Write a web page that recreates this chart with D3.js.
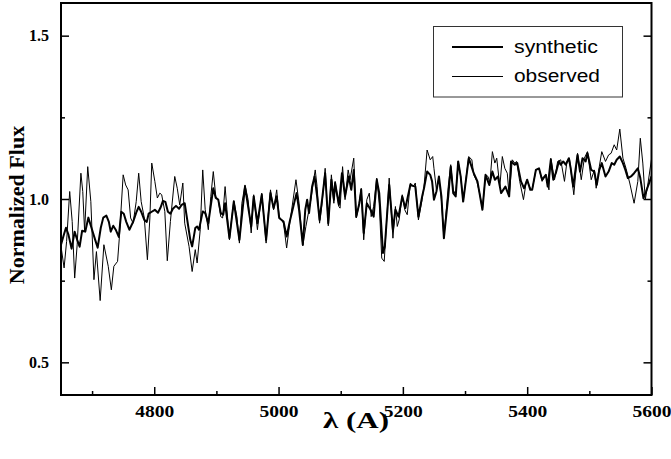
<!DOCTYPE html>
<html>
<head>
<meta charset="utf-8">
<script src="https://cdn.jsdelivr.net/npm/d3@7"></script>
<style>
  html, body { margin: 0; padding: 0; background: #fff; }
  svg { display: block; }
</style>
</head>
<body>
<svg id="chart" width="671" height="459"></svg>
<script>
// ---------------- data ----------------
const obsWave = [4650,4655,4659,4664,4668,4672,4676,4682,4685,4688,4693,4698,4703,4707,4713,4719,4726,4731,4735,4741,4744,4750,4754,4758,4762,4766,4771,4775,4779,4784,4789,4793,4796,4801,4805,4809,4812,4817,4821,4826,4833,4837,4841,4846,4849,4856,4861,4866,4869,4874,4878,4882,4887,4891,4895,4899,4903,4907,4910,4914,4917,4921,4925,4928,4933,4937,4941,4946,4951,4956,4960,4966,4973,4980,4983,4987,4992,4997,5001,5008,5013,5018,5028,5033,5039,5044,5048,5052,5057,5059,5062,5066,5070,5075,5080,5085,5089,5091,5097,5099,5103,5107,5112,5115,5121,5125,5129,5133,5137,5142,5146,5149,5153,5158,5162,5166,5170,5178,5184,5188,5191,5194,5199,5203,5207,5212,5217,5220,5225,5231,5234,5239,5244,5248,5250,5254,5258,5262,5266,5273,5277,5281,5285,5289,5293,5297,5302,5306,5311,5314,5319,5324,5328,5333,5337,5340,5344,5348,5351,5356,5360,5364,5368,5371,5376,5380,5383,5388,5394,5399,5405,5408,5414,5419,5424,5430,5435,5438,5444,5449,5454,5460,5464,5468,5475,5481,5487,5492,5497,5503,5508,5511,5516,5520,5526,5531,5535,5540,5544,5549,5554,5559,5565,5572,5578,5582,5586,5590,5594,5600];
const obsFlux = [0.855,0.789,0.870,1.023,0.931,0.758,0.860,1.079,1.023,0.901,1.099,0.992,0.753,0.839,0.689,0.860,0.794,0.722,0.794,0.809,0.885,1.074,1.043,1.028,0.942,0.926,0.992,1.079,0.992,0.942,0.814,0.942,1.110,1.054,1.003,1.018,1.013,0.962,0.811,0.931,1.069,1.033,0.982,1.049,0.926,0.855,0.778,0.845,0.804,0.906,1.089,0.967,0.906,1.008,1.084,1.008,0.998,0.946,0.942,1.038,0.967,0.875,0.946,0.995,0.946,0.865,0.987,1.043,0.998,0.896,1.013,0.906,1.018,0.865,0.946,1.028,0.967,1.028,0.946,0.926,0.850,0.926,1.059,0.987,0.857,0.916,0.957,0.998,1.065,1.089,1.038,0.926,0.987,1.094,0.918,1.074,0.987,1.054,0.977,0.972,1.099,0.998,1.089,1.059,1.125,0.942,0.977,1.033,0.875,0.998,1.018,0.946,0.977,1.064,0.987,0.819,0.809,1.064,0.880,0.977,0.916,0.936,1.013,0.967,0.952,1.049,1.038,1.049,0.936,0.998,1.038,1.150,1.120,1.130,1.094,1.028,1.064,0.998,0.880,1.038,1.105,1.028,1.013,1.115,1.069,0.992,1.069,1.130,1.120,1.074,1.054,1.013,0.967,1.074,1.069,1.049,1.145,1.110,1.125,1.038,1.130,1.094,1.079,1.008,1.120,1.110,1.115,1.054,0.998,1.059,1.033,1.028,1.089,1.094,1.054,1.074,1.028,1.125,1.059,1.115,1.120,1.054,1.115,1.125,1.013,1.140,1.059,1.125,1.145,1.059,1.089,1.033,1.099,1.145,1.115,1.135,1.140,1.166,1.150,1.214,1.125,1.094,1.049,0.987,1.054,1.186,1.110,0.998,1.043,1.122];

const synWave = [4650,4654,4658,4662,4667,4672,4676,4680,4684,4689,4694,4699,4705,4709,4714,4718,4723,4727,4730,4734,4738,4743,4747,4751,4755,4760,4766,4771,4775,4779,4784,4788,4791,4796,4801,4806,4810,4814,4818,4822,4826,4830,4835,4840,4844,4849,4858,4861,4866,4869,4872,4878,4882,4887,4895,4899,4903,4907,4911,4914,4921,4928,4937,4946,4956,4960,4966,4973,4980,4987,4992,4997,5001,5008,5013,5018,5029,5033,5039,5043,5046,5049,5054,5058,5062,5066,5070,5075,5080,5085,5089,5091,5097,5102,5107,5113,5117,5121,5125,5130,5133,5137,5142,5148,5153,5158,5162,5168,5171,5178,5184,5188,5193,5199,5204,5212,5220,5225,5231,5234,5239,5244,5247,5250,5254,5258,5262,5266,5273,5277,5281,5285,5289,5293,5297,5306,5314,5320,5328,5333,5339,5344,5348,5353,5358,5365,5371,5374,5380,5384,5390,5395,5400,5405,5408,5414,5419,5424,5430,5433,5438,5442,5446,5451,5454,5458,5462,5467,5470,5474,5481,5485,5489,5494,5497,5503,5508,5512,5516,5520,5526,5531,5536,5540,5544,5549,5554,5558,5562,5567,5572,5578,5582,5587,5591,5600];
const synFlux = [0.860,0.887,0.912,0.891,0.848,0.900,0.875,0.854,0.903,0.900,0.943,0.912,0.875,0.851,0.912,0.943,0.949,0.930,0.900,0.918,0.906,0.884,0.961,0.955,0.930,0.906,0.930,0.958,0.976,0.961,0.936,0.930,0.955,0.961,0.967,0.958,0.973,0.994,0.991,0.961,0.955,0.970,0.979,0.970,0.982,0.987,0.875,0.855,0.911,0.916,0.906,0.962,0.957,0.926,1.033,1.003,0.998,0.957,0.952,0.987,0.880,0.992,0.875,1.038,0.916,1.008,0.926,1.013,0.875,1.018,0.972,1.008,0.942,0.931,0.885,0.931,1.018,0.967,0.860,0.967,0.998,0.957,1.038,1.069,1.008,0.936,0.998,1.079,0.926,1.059,0.998,1.049,0.982,1.079,1.008,1.069,1.028,1.089,0.946,0.987,1.028,0.896,0.987,0.967,0.946,1.059,1.018,0.835,0.855,1.043,0.906,0.967,0.946,1.008,0.972,1.043,1.038,0.946,1.008,1.033,1.084,1.074,1.054,0.998,1.023,1.069,1.008,0.880,1.008,1.099,1.018,1.008,1.115,1.069,0.992,1.125,1.079,1.054,0.967,1.074,1.043,1.084,1.059,1.069,1.018,1.038,1.008,1.115,1.105,1.110,1.054,1.033,1.059,1.028,1.028,1.089,1.094,1.059,1.074,1.038,1.120,1.059,1.079,1.115,1.105,1.115,1.105,1.125,1.094,1.038,1.135,1.084,1.125,1.115,1.140,1.089,1.084,1.043,1.089,1.110,1.069,1.084,1.110,1.105,1.120,1.130,1.110,1.089,1.064,1.069,1.079,1.094,1.064,1.003,1.022,1.069];

const xDomain = [4650, 5600];
const yDomain = [0.4, 1.6];
const xMajorTicks = [4800, 5000, 5200, 5400, 5600];
const xMinorTicks = [4700, 4900, 5100, 5300, 5500];
const yMajorTicks = [0.5, 1.0, 1.5];
const yTickLabels = ["0.5", "1.0", "1.5"];
const yMinorTicks = [0.75, 1.25];
const seriesNames = ["synthetic", "observed"];
const xTitle = "λ (A)";
const yTitle = "Normalized Flux";

// ---------------- layout ----------------
const L = 61, R = 651.5, T = 3, B = 395;
const svg = d3.select("#chart");
const serif = "'Liberation Serif','Times New Roman',Times,serif";
const sans = "'Liberation Sans',Arial,Helvetica,sans-serif";

const x = d3.scaleLinear().domain(xDomain).range([L, R]);
const y = d3.scaleLinear().domain(yDomain).range([B, T]);

svg.append("defs").append("clipPath").attr("id", "clip")
  .append("rect").attr("x", L).attr("y", T).attr("width", R - L).attr("height", B - T);

const line = d3.line().x(d => x(d[0])).y(d => y(d[1]));
const obs = d3.zip(obsWave, obsFlux);
const syn = d3.zip(synWave, synFlux);

const plot = svg.append("g").attr("clip-path", "url(#clip)");
plot.append("path").datum(obs).attr("d", line)
  .attr("fill", "none").attr("stroke", "#000").attr("stroke-width", 1).attr("stroke-linejoin", "round");
plot.append("path").datum(syn).attr("d", line)
  .attr("fill", "none").attr("stroke", "#000").attr("stroke-width", 2).attr("stroke-linejoin", "round");

// axes (inward ticks)
function styleAxis(g) {
  g.select(".domain").remove();
  g.selectAll(".tick line").attr("stroke", "#000").attr("stroke-width", 1.5);
  g.selectAll("text").attr("font-family", serif).attr("font-weight", "bold")
    .attr("font-size", 16).attr("fill", "#000");
}
const gxB = svg.append("g").attr("transform", `translate(0,${B})`)
  .call(d3.axisBottom(x).tickValues(xMajorTicks).tickSize(-8).tickPadding(11).tickFormat(d3.format("d")));
styleAxis(gxB);
gxB.selectAll("text").attr("textLength", 39).attr("lengthAdjust", "spacingAndGlyphs");
svg.append("g").attr("transform", `translate(0,${B})`)
  .call(d3.axisBottom(x).tickValues(xMinorTicks).tickSize(-4).tickFormat(""))
  .call(styleAxis);

const gyL = svg.append("g").attr("transform", `translate(${L},0)`)
  .call(d3.axisLeft(y).tickValues(yMajorTicks).tickSize(-8).tickPadding(12)
    .tickFormat((d, i) => yTickLabels[i]));
styleAxis(gyL);
svg.append("g").attr("transform", `translate(${L},0)`)
  .call(d3.axisLeft(y).tickValues(yMinorTicks).tickSize(-4).tickFormat(""))
  .call(styleAxis);
svg.append("g").attr("transform", `translate(${R},0)`)
  .call(d3.axisRight(y).tickValues(yMajorTicks).tickSize(-8).tickFormat(""))
  .call(styleAxis);
svg.append("g").attr("transform", `translate(${R},0)`)
  .call(d3.axisRight(y).tickValues(yMinorTicks).tickSize(-4).tickFormat(""))
  .call(styleAxis);

// frame
svg.append("rect").attr("x", L).attr("y", T).attr("width", R - L).attr("height", B - T)
  .attr("fill", "none").attr("stroke", "#000").attr("stroke-width", 2);

// titles
svg.append("text").attr("x", 356).attr("y", 428)
  .attr("text-anchor", "middle").attr("font-family", serif).attr("font-weight", "bold")
  .attr("font-size", 23).attr("textLength", 66).attr("lengthAdjust", "spacingAndGlyphs")
  .text(xTitle);
svg.append("text").attr("transform", "translate(24,205) rotate(-90)")
  .attr("text-anchor", "middle").attr("font-family", serif).attr("font-weight", "bold")
  .attr("font-size", 22).text(yTitle);

// legend
const lg = svg.append("g");
lg.append("rect").attr("x", 433.5).attr("y", 26.5).attr("width", 189).attr("height", 70.5)
  .attr("fill", "#fff").attr("stroke", "#333").attr("stroke-width", 1);
const legendRows = [
  { name: seriesNames[0], w: 2, ly: 47, ty: 52.8, len: 84 },
  { name: seriesNames[1], w: 1, ly: 76.5, ty: 81.7, len: 86 }
];
legendRows.forEach(r => {
  lg.append("line").attr("x1", 452).attr("x2", 503).attr("y1", r.ly).attr("y2", r.ly)
    .attr("stroke", "#000").attr("stroke-width", r.w);
  lg.append("text").attr("x", 514).attr("y", r.ty).attr("font-family", sans)
    .attr("font-size", 18).attr("textLength", r.len).attr("lengthAdjust", "spacingAndGlyphs")
    .attr("fill", "#000").text(r.name);
});
</script>
</body>
</html>
